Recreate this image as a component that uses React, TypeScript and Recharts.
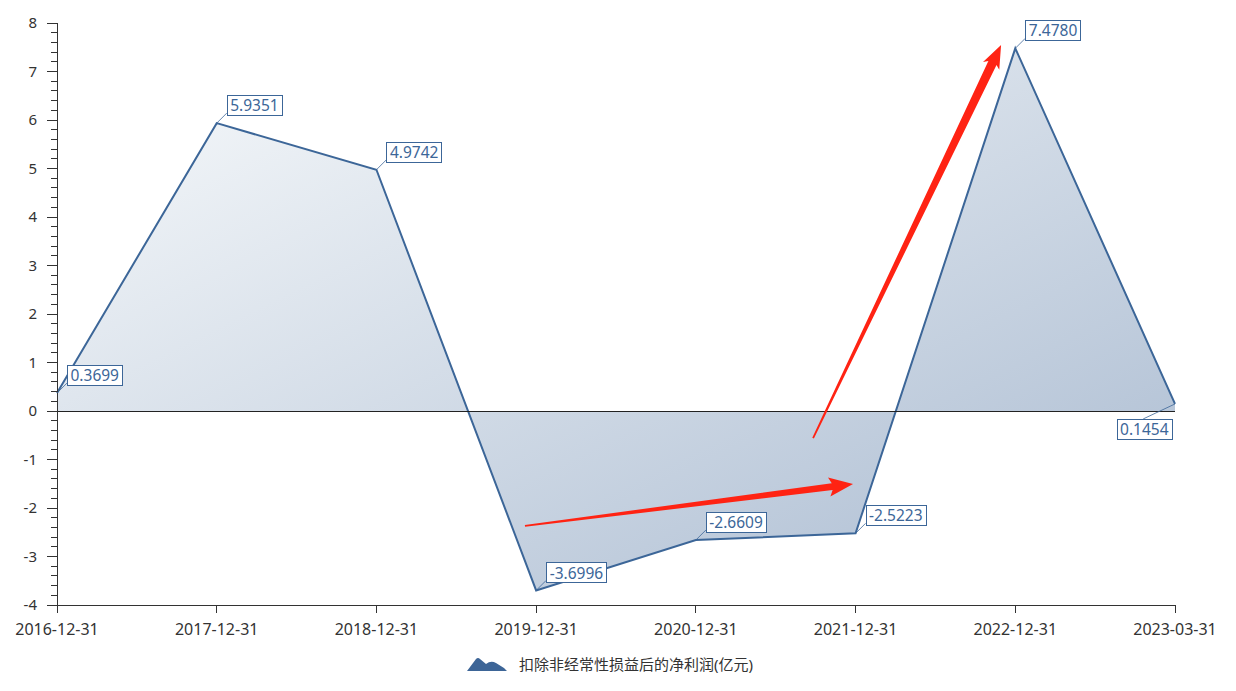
import React from 'react';
import { ComposedChart, Area, XAxis, YAxis, ReferenceLine, LabelList } from 'recharts';

// ---- data ----
const categories = ['2016-12-31', '2017-12-31', '2018-12-31', '2019-12-31', '2020-12-31', '2021-12-31', '2022-12-31', '2023-03-31'];
const values = [0.3699, 5.9351, 4.9742, -3.6996, -2.6609, -2.5223, 7.478, 0.1454];
const valueLabels = ['0.3699', '5.9351', '4.9742', '-3.6996', '-2.6609', '-2.5223', '7.4780', '0.1454'];
const yMajorTicks = [-4, -3, -2, -1, 0, 1, 2, 3, 4, 5, 6, 7, 8];
const minorSteps = 5;
const seriesName = '扣除非经常性损益后的净利润(亿元)';
// annotation arrows, in data units (x = category index, y = value)
const arrowStarts = [{ x: 2.93, y: -2.37 }, { x: 4.734, y: -0.557 }];
const arrowEnds = [{ x: 4.984, y: -1.505 }, { x: 5.911, y: 7.546 }];

const data = categories.map((c, i) => ({ idx: i, date: c, value: values[i] }));
const xTicks = categories.map((_, i) => i);
const yTicks: number[] = [];
for (let i = 0; i < yMajorTicks.length - 1; i++) {
  for (let k = 0; k < minorSteps; k++) yTicks.push(yMajorTicks[i] + k / minorSteps);
}
yTicks.push(yMajorTicks[yMajorTicks.length - 1]);

const FONT = '"Noto Sans", "Noto Sans CJK SC", sans-serif';
const LINE = '#3c6698';
const AXIS = '#333';

const charW = (ch: string) => (ch === '.' ? 4.15 : ch === '-' ? 5.0 : 8.85);
const textW = (s: string) => s.split('').reduce((a, c) => a + charW(c), 0);

const YTick = (props: any) => {
  const { x, y, payload } = props;
  const v = payload.value as number;
  const major = Math.abs(v - Math.round(v)) < 1e-6;
  return (
    <g>
      <line x1={x - (major ? 10 : 6)} x2={x} y1={y} y2={y} stroke={AXIS} strokeWidth={1} shapeRendering="crispEdges" />
      {major && (
        <text x={x - 20} y={y} dy="0.35em" textAnchor="end" fill={AXIS} fontSize={15} fontFamily={FONT}>
          {Math.round(v)}
        </text>
      )}
    </g>
  );
};

const renderLabel = (props: any) => {
  const { x, y, index } = props;
  const label = valueLabels[index];
  const w = textW(label) + 7;
  const h = 20;
  const last = index === values.length - 1;
  let bx: number, by: number, lx: number, ly: number;
  if (last) {
    bx = x - 3 - w;
    by = y + 15;
    lx = bx + w * 0.48;
    ly = by;
  } else {
    bx = x + 10;
    by = y - 8 - h;
    lx = bx;
    ly = by + h - 2;
  }
  return (
    <g>
      <line x1={x} y1={y} x2={lx} y2={ly} stroke={LINE} strokeWidth={0.8} />
      <rect x={Math.round(bx) + 0.5} y={Math.round(by) + 0.5} width={Math.round(w)} height={h} fill="#fff" stroke={LINE} strokeWidth={1} />
      <text x={bx + 3.5} y={by + h / 2 + 0.5} dy="0.36em" fill={LINE} fontSize={15.5} fontFamily={FONT}>
        {label}
      </text>
    </g>
  );
};

const arrowShape = (headLen: number, headHalf: number, neck: number, tail: number) => (p: any) => {
  const { x1, y1, x2, y2 } = p;
  const dx = x2 - x1;
  const dy = y2 - y1;
  const len = Math.hypot(dx, dy) || 1;
  const ux = dx / len;
  const uy = dy / len;
  const nx = -uy;
  const ny = ux;
  const bx = x2 - ux * headLen;
  const by = y2 - uy * headLen;
  const bx2 = x2 - ux * (headLen + 3);
  const by2 = y2 - uy * (headLen + 3);
  const pts = [
    [x1 + nx * tail, y1 + ny * tail],
    [bx + nx * neck, by + ny * neck],
    [bx2 + nx * headHalf, by2 + ny * headHalf],
    [x2, y2],
    [bx2 - nx * headHalf, by2 - ny * headHalf],
    [bx - nx * neck, by - ny * neck],
    [x1 - nx * tail, y1 - ny * tail],
  ];
  return <polygon points={pts.map((q) => q.join(',')).join(' ')} fill="#ff2313" />;
};

const arrowShapes = [arrowShape(21, 9.5, 3.4, 0.9), arrowShape(20, 9, 4.5, 0.9)];

export default function App() {
  return (
    <div style={{ position: 'relative', width: 1220, height: 683, fontFamily: FONT }}>
      <ComposedChart
        width={1220}
        height={683}
        data={data}
        margin={{ top: 15, right: 53, bottom: 56, left: 0 }}
      >
        <defs>
          <linearGradient id="areaGrad" x1="0" y1="0" x2="1" y2="1">
            <stop offset="0%" stopColor="#f9fbfc" />
            <stop offset="100%" stopColor="#aabbd1" />
          </linearGradient>
        </defs>
        <XAxis
          type="number"
          dataKey="idx"
          domain={[0, 7]}
          ticks={xTicks}
          interval={0}
          tickFormatter={(v: number) => categories[v]}
          height={30}
          tickSize={8}
          tickMargin={11}
          stroke={AXIS}
          axisLine={{ stroke: AXIS, shapeRendering: 'crispEdges' }}
          tickLine={{ stroke: AXIS, shapeRendering: 'crispEdges' }}
          tick={{ fill: AXIS, fontSize: 16, fontFamily: FONT }}
        />
        <YAxis
          type="number"
          domain={[-4, 8]}
          ticks={yTicks}
          interval={0}
          width={49}
          tickSize={0}
          tickMargin={0}
          tickLine={false}
          stroke={AXIS}
          axisLine={{ stroke: AXIS, shapeRendering: 'crispEdges' }}
          tick={<YTick />}
        />
        <ReferenceLine y={0} stroke="#222" strokeWidth={1} shapeRendering="crispEdges" />
        <Area
          type="linear"
          dataKey="value"
          name={seriesName}
          baseValue={0}
          stroke={LINE}
          strokeWidth={2}
          fill="url(#areaGrad)"
          fillOpacity={1}
          dot={false}
          activeDot={false}
          isAnimationActive={false}
        >
          <LabelList dataKey="value" content={renderLabel} />
        </Area>
        {arrowStarts.map((s, i) => (
          <ReferenceLine
            key={i}
            segment={[s, arrowEnds[i]]}
            ifOverflow="visible"
            shape={arrowShapes[i]}
          />
        ))}
      </ComposedChart>
      <div
        style={{
          position: 'absolute',
          left: 459,
          top: 645,
          height: 20,
          display: 'flex',
          alignItems: 'center',
          whiteSpace: 'nowrap',
        }}
      >
        <svg width={40} height={15} style={{ display: 'block' }}>
          <path d="M0 15 L9 3 Q11 1 13 3 L19 8 Q24 4 29 7 L37 12 L40 15 Z" fill="#3d6597" />
        </svg>
        <span style={{ marginLeft: 12, fontSize: 15, color: AXIS, fontFamily: FONT }}>{seriesName}</span>
      </div>
    </div>
  );
}
